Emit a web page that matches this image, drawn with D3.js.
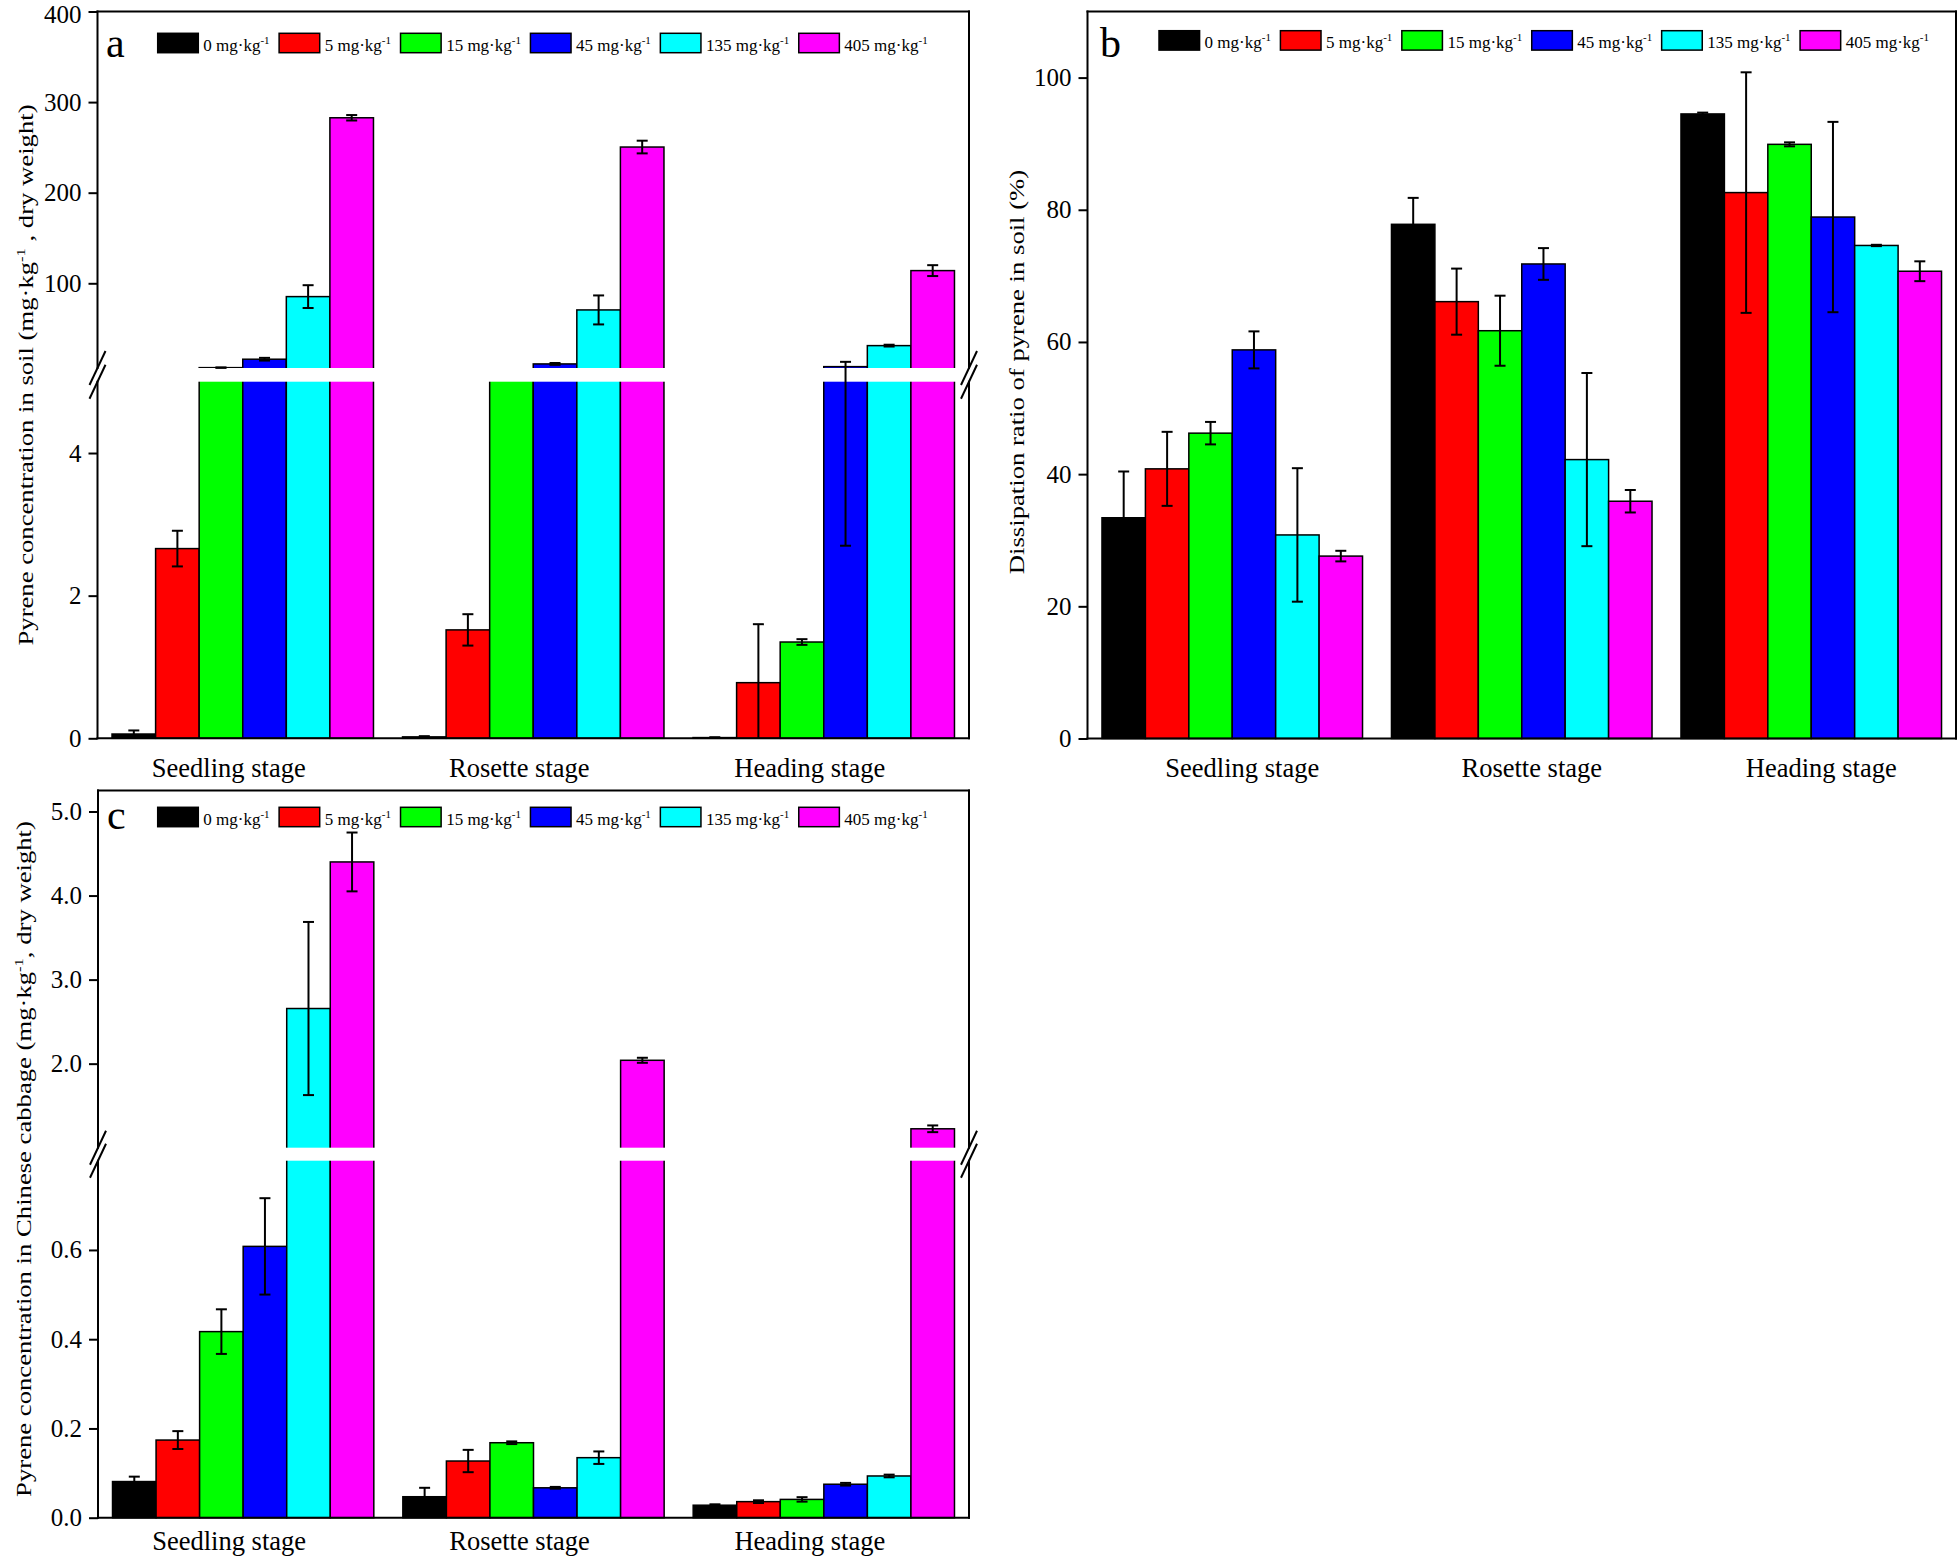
<!DOCTYPE html>
<html><head><meta charset="utf-8">
<script src="https://cdn.jsdelivr.net/npm/d3@7"></script>
<style>
body{margin:0;background:#fff}
svg{display:block}
text{font-family:"Liberation Serif","Times New Roman",serif;fill:#000}
</style>
</head><body>
<svg id="chart" width="1960" height="1558"></svg>
<script>
// ---------- data ----------
const stages = ["Seedling stage", "Rosette stage", "Heading stage"];
const doses = ["0", "5", "15", "45", "135", "405"];
const seriesColors = ["#000000", "#ff0000", "#00ff00", "#0000ff", "#00ffff", "#ff00ff"];

// (a) pyrene in soil, mg/kg  [stage][dose]
const soilMean = [
  [0.06, 2.66, 6.9, 16.2, 85.3, 282.7],
  [0.02, 1.52, 5.8, 11.0, 70.6, 250.4],
  [0.01, 0.78, 1.35, 8.0, 31.2, 114.0]
];
const soilErr = [
  [0.05, 0.25, 0.2, 1.5, 12.6, 3.0],
  [0.01, 0.22, 0.2, 1.0, 16.0, 7.0],
  [0.005, 0.82, 0.04, 5.3, 1.0, 6.0]
];
// (b) dissipation ratio, %
const dissMean = [
  [33.4, 40.8, 46.2, 58.8, 30.8, 27.6],
  [77.8, 66.1, 61.7, 71.8, 42.2, 35.9],
  [94.5, 82.6, 89.9, 78.9, 74.6, 70.7]
];
const dissErr = [
  [7.0, 5.6, 1.7, 2.8, 10.1, 0.8],
  [4.0, 5.0, 5.3, 2.4, 13.1, 1.7],
  [0.2, 18.2, 0.3, 14.4, 0.1, 1.5]
];
// (c) pyrene in Chinese cabbage, mg/kg
const cabMean = [
  [0.081, 0.174, 0.417, 0.608, 2.656, 4.40],
  [0.047, 0.127, 0.168, 0.067, 0.1345, 2.04],
  [0.028, 0.036, 0.041, 0.075, 0.0935, 1.225]
];
const cabErr = [
  [0.011, 0.020, 0.050, 0.108, 1.03, 0.35],
  [0.020, 0.025, 0.003, 0.002, 0.014, 0.03],
  [0.002, 0.003, 0.005, 0.003, 0.003, 0.04]
];

// axis ticks
const soilTicksUpper = [100, 200, 300, 400];
const soilTicksLower = [0, 2, 4];
const dissTicks = [0, 20, 40, 60, 80, 100];
const cabTicksUpper = [2.0, 3.0, 4.0, 5.0];
const cabTicksLower = [0.0, 0.2, 0.4, 0.6];

const svg = d3.select("#chart");

function addSup(textSel, parts, supSize, supDy) {
  parts.forEach(p => {
    if (p.sup) {
      textSel.append("tspan").attr("font-size", supSize).attr("dy", -supDy).text(p.t);
    } else {
      const ts = textSel.append("tspan").text(p.t);
      if (p.after) ts.attr("dy", supDy);
    }
  });
}

function drawPanel(cfg) {
  const g = svg.append("g");
  const x0 = d3.scaleBand().domain(stages).range([cfg.left, cfg.right])
    .paddingInner(0.1).paddingOuter(0.05);
  const x1 = d3.scaleBand().domain(doses).range([0, x0.bandwidth()]);

  const segs = cfg.segments.map(s => ({
    lo: s.domain[0], hi: s.domain[1],
    scale: d3.scaleLinear().domain(s.domain).range(s.range),
    ticks: s.ticks, fmt: s.fmt, yb: s.range[0], yt: s.range[1]
  }));
  const broken = segs.length > 1;
  function yv(v) {
    if (!broken) return segs[0].scale(v);
    const L = segs[0], U = segs[1];
    if (v <= L.hi) return L.scale(v);
    if (v >= U.lo) return U.scale(v);
    const t = (v - L.hi) / (U.lo - L.hi);
    return L.yt + t * (U.yb - L.yt);
  }

  // bars
  cfg.mean.forEach((row, i) => {
    row.forEach((v, j) => {
      const bx = x0(stages[i]) + x1(doses[j]);
      const bw = x1.bandwidth();
      segs.forEach((s, k) => {
        if (v <= s.lo) return;
        let yBot = s.scale(s.lo);
        if (k > 0) yBot += 4;
        let yTop = s.scale(Math.min(v, s.hi));
        if (v > s.hi && broken) yTop -= 4;
        g.append("rect")
          .attr("x", bx).attr("y", yTop)
          .attr("width", bw).attr("height", Math.max(0, yBot - yTop))
          .attr("fill", seriesColors[j])
          .attr("stroke", "#000").attr("stroke-width", 1.5);
      });
    });
  });

  // gap
  if (broken) {
    g.append("rect")
      .attr("x", cfg.left - 14).attr("y", segs[1].yb)
      .attr("width", cfg.right - cfg.left + 28)
      .attr("height", segs[0].yt - segs[1].yb)
      .attr("fill", "#fff");
  }

  // error bars
  cfg.mean.forEach((row, i) => {
    row.forEach((v, j) => {
      const e = cfg.err[i][j];
      if (broken && v - e > segs[0].hi && v + e < segs[1].lo) return; // hidden in the break
      const cx = x0(stages[i]) + x1(doses[j]) + x1.bandwidth() / 2;
      const yHi = yv(v + e), yLo = yv(Math.max(0, v - e));
      const eg = g.append("g").attr("stroke", "#000").attr("stroke-width", 2);
      eg.append("line").attr("x1", cx).attr("x2", cx).attr("y1", yHi).attr("y2", yLo);
      eg.append("line").attr("x1", cx - 5.5).attr("x2", cx + 5.5).attr("y1", yHi).attr("y2", yHi);
      if (v - e > 0) eg.append("line").attr("x1", cx - 5.5).attr("x2", cx + 5.5).attr("y1", yLo).attr("y2", yLo);
    });
  });

  // axes ticks
  segs.forEach(s => {
    const ax = d3.axisLeft(s.scale).tickValues(s.ticks).tickSize(9).tickPadding(7)
      .tickFormat(s.fmt);
    const ag = g.append("g").attr("transform", `translate(${cfg.left},0)`).call(ax);
    ag.select(".domain").remove();
    ag.selectAll(".tick line").attr("stroke", "#000").attr("stroke-width", 2);
    ag.selectAll(".tick text").attr("font-size", 25).attr("font-family", "Liberation Serif").attr("fill", "#000");
    ag.selectAll(".tick").filter(d => s.scale(d) < 16).select("text").attr("dy", "0.42em");
  });

  // frame lines
  const yBottom = segs[0].yb;
  const yTopAll = segs[segs.length - 1].yt;
  const lg = g.append("g").attr("stroke", "#000").attr("stroke-width", 2).attr("fill", "none");
  const vlines = broken
    ? [[yTopAll, segs[1].yb], [segs[0].yt, yBottom]]
    : [[yTopAll, yBottom]];
  [cfg.left, cfg.right].forEach(xx => {
    vlines.forEach(([a, b]) => {
      lg.append("line").attr("x1", xx).attr("x2", xx).attr("y1", a - 1).attr("y2", b + 1);
    });
  });
  lg.append("line").attr("x1", cfg.left - 1).attr("x2", cfg.right + 1).attr("y1", yTopAll).attr("y2", yTopAll);
  lg.append("line").attr("x1", cfg.left - 1).attr("x2", cfg.right + 1).attr("y1", yBottom).attr("y2", yBottom);

  // break marks
  if (broken) {
    [cfg.left, cfg.right].forEach(xx => {
      [segs[1].yb, segs[0].yt].forEach(c => {
        lg.append("line").attr("x1", xx - 8).attr("y1", c + 17).attr("x2", xx + 8).attr("y2", c - 17);
      });
    });
  }

  // category labels
  stages.forEach(s => {
    g.append("text")
      .attr("x", x0(s) + x0.bandwidth() / 2 + cfg.labelShift)
      .attr("y", cfg.labelY)
      .attr("text-anchor", "middle")
      .attr("font-size", 26.5)
      .text(s);
  });

  // panel letter
  g.append("text").attr("x", cfg.letterX).attr("y", cfg.letterY)
    .attr("font-size", 42).text(cfg.letter);

  // legend
  let lx = cfg.legendX;
  doses.forEach((d, j) => {
    g.append("rect").attr("x", lx).attr("y", cfg.legendY)
      .attr("width", 40.6).attr("height", 19.4)
      .attr("fill", seriesColors[j]).attr("stroke", "#000").attr("stroke-width", 1.5);
    const t = g.append("text").attr("x", lx + 45.6).attr("y", cfg.legendY + 17.4)
      .attr("font-size", 17);
    addSup(t, [{t: d + " mg\u00b7kg"}, {t: "-1", sup: true}], 11, 7);
    const w = t.node().getComputedTextLength();
    lx += 45.6 + w + 9.5;
  });

  // y title
  const tt = g.append("text")
    .attr("transform", `translate(${cfg.titleX},${cfg.titleY}) rotate(-90) scale(1.27,1)`)
    .attr("text-anchor", "middle")
    .attr("font-size", 21);
  addSup(tt, cfg.titleParts, 13, 8);
}

const titleSoil = [{t: "Pyrene concentration in soil (mg\u00b7kg"}, {t: "-1", sup: true}, {t: " , dry weight)", after: true}];
const titleDiss = [{t: "Dissipation ratio of pyrene in soil (%)"}];
const titleCab = [{t: "Pyrene concentration in Chinese cabbage (mg\u00b7kg"}, {t: "-1", sup: true}, {t: ", dry weight)", after: true}];

const fmtInt = d3.format("d");
const fmt1 = d3.format(".1f");

// panel a
drawPanel({
  left: 97.5, right: 969, mean: soilMean, err: soilErr,
  segments: [
    {domain: [0, 5], range: [738.3, 381.7], ticks: soilTicksLower, fmt: fmtInt},
    {domain: [6.5, 400], range: [368, 11.5], ticks: soilTicksUpper, fmt: fmtInt}
  ],
  labelY: 777, labelShift: -14,
  letter: "a", letterX: 106, letterY: 57,
  legendX: 157.7, legendY: 33.3,
  titleX: 33, titleY: 375, titleParts: titleSoil
});

// panel b
drawPanel({
  left: 1087.5, right: 1956, mean: dissMean, err: dissErr,
  segments: [
    {domain: [0, 110], range: [738.5, 11.5], ticks: dissTicks, fmt: fmtInt}
  ],
  labelY: 777, labelShift: 10,
  letter: "b", letterX: 1100, letterY: 57,
  legendX: 1159, legendY: 30.7,
  titleX: 1024, titleY: 372, titleParts: titleDiss
});

// panel c
drawPanel({
  left: 98, right: 969, mean: cabMean, err: cabErr,
  segments: [
    {domain: [0, 0.8], range: [1517.7, 1160.7], ticks: cabTicksLower, fmt: fmt1},
    {domain: [1.0, 5.25], range: [1147.7, 790.5], ticks: cabTicksUpper, fmt: fmt1}
  ],
  labelY: 1550, labelShift: -14,
  letter: "c", letterX: 107, letterY: 829,
  legendX: 157.7, legendY: 807.3,
  titleX: 31, titleY: 1159, titleParts: titleCab
});
</script>
</body></html>
